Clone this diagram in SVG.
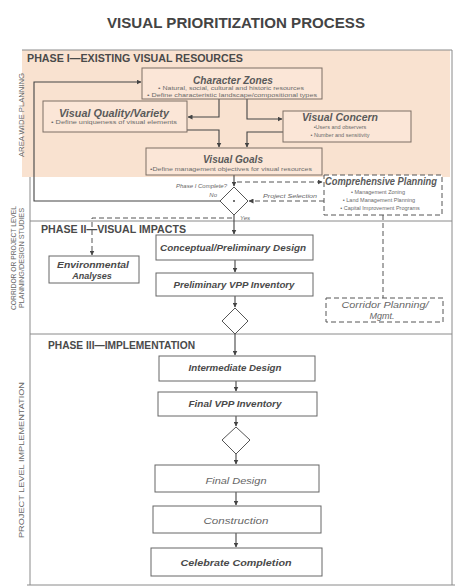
<svg xmlns="http://www.w3.org/2000/svg" width="466" height="587" viewBox="0 0 466 587">
<defs>
<marker id="ah" viewBox="0 0 10 10" refX="9" refY="5" markerWidth="5" markerHeight="5" orient="auto" markerUnits="userSpaceOnUse"><path d="M0,0 L10,5 L0,10 z" fill="#444"/></marker>
<style>
text{font-family:"Liberation Sans",Arial,sans-serif;fill:#444}
.box{fill:#fff;stroke:#666;stroke-width:1}
.pbox{fill:#fbe6d7;stroke:#7d6e64;stroke-width:1}
.dbox{fill:#fff;stroke:#555;stroke-width:1;stroke-dasharray:5 3}
.bt{font-weight:bold;font-style:italic;font-size:9px;text-anchor:middle;fill:#4a4a4a}
.pt{font-weight:bold;font-style:italic;font-size:10px;text-anchor:middle;fill:#5a5a5a}
.bl{font-size:5.5px;text-anchor:middle;fill:#6a6a6a}
.lt{font-style:italic;font-size:9px;text-anchor:middle;fill:#666}
.ph{font-weight:bold;font-size:10px;fill:#4a4a4a}
.side{font-size:6.5px;text-anchor:middle;fill:#666}
.sm{font-style:italic;font-size:6px;fill:#666}
.c{fill:none;stroke:#444;stroke-width:1.1}
.cd{fill:none;stroke:#555;stroke-width:1;stroke-dasharray:5 3}
.fr{fill:none;stroke:#8a8a8a;stroke-width:1}
</style>
</defs>
<rect width="466" height="587" fill="#fff"/>
<g id="title"><text x="236" y="28" font-size="15" font-weight="bold" text-anchor="middle" textLength="258" lengthAdjust="spacingAndGlyphs">VISUAL PRIORITIZATION PROCESS</text></g>
<g id="frame">
<rect x="22" y="50" width="428" height="127" fill="#f9e2d0"/>
<line class="fr" x1="22" y1="50" x2="452" y2="50"/>
<line class="fr" x1="452" y1="50" x2="452" y2="585"/>
<line class="fr" x1="30" y1="177" x2="30" y2="585"/>
<line class="fr" x1="27" y1="585" x2="455" y2="585"/>
<line class="fr" x1="30" y1="221" x2="452" y2="221"/>
<line class="fr" x1="30" y1="334" x2="452" y2="334"/>
<text class="ph" x="27" y="62" textLength="216" lengthAdjust="spacingAndGlyphs">PHASE I—EXISTING VISUAL RESOURCES</text>
<text class="ph" x="41" y="233" textLength="145" lengthAdjust="spacingAndGlyphs">PHASE II—VISUAL IMPACTS</text>
<text class="ph" x="48" y="349" textLength="147" lengthAdjust="spacingAndGlyphs">PHASE III—IMPLEMENTATION</text>
<text class="side" transform="translate(24,115) rotate(-90)" textLength="84" lengthAdjust="spacingAndGlyphs">AREA WIDE PLANNING</text>
<text class="side" transform="translate(16,258) rotate(-90)" textLength="104" lengthAdjust="spacingAndGlyphs">CORRIDOR OR PROJECT LEVEL</text>
<text class="side" transform="translate(24,258) rotate(-90)" textLength="100" lengthAdjust="spacingAndGlyphs">PLANNING/DESIGN STUDIES</text>
<text class="side" font-size="7" transform="translate(24,460) rotate(-90)" textLength="156" lengthAdjust="spacingAndGlyphs">PROJECT LEVEL IMPLEMENTATION</text>
</g>
<g id="connectors">
<polyline class="c" points="220,201 34,201 34,82 141,82" marker-end="url(#ah)"/>
<polyline class="c" points="219,99 219,117 188,117" marker-end="url(#ah)"/>
<polyline class="c" points="247,99 247,119 282,119" marker-end="url(#ah)"/>
<polyline class="c" points="187,130 219,130 219,147" marker-end="url(#ah)"/>
<polyline class="c" points="283,132 247,132 247,147" marker-end="url(#ah)"/>
<line class="c" x1="234" y1="175" x2="234" y2="186" marker-end="url(#ah)"/>
<line class="cd" x1="237" y1="182" x2="322" y2="182" marker-end="url(#ah)"/>
<line class="cd" x1="324" y1="201" x2="249" y2="201" marker-end="url(#ah)"/>
<line class="cd" x1="383" y1="215" x2="383" y2="298"/>
<line class="c" x1="234" y1="215" x2="234" y2="234" marker-end="url(#ah)"/>
<polyline class="cd" points="232,218 92,218 92,255" marker-end="url(#ah)"/>
<line class="c" x1="235" y1="260" x2="235" y2="272" marker-end="url(#ah)"/>
<line class="c" x1="235" y1="296" x2="235" y2="307" marker-end="url(#ah)"/>
<line class="c" x1="235" y1="334" x2="235" y2="355" marker-end="url(#ah)"/>
<line class="c" x1="236" y1="381" x2="236" y2="391" marker-end="url(#ah)"/>
<line class="c" x1="236" y1="416" x2="236" y2="426" marker-end="url(#ah)"/>
<line class="c" x1="236" y1="454" x2="236" y2="464" marker-end="url(#ah)"/>
<line class="c" x1="236" y1="492" x2="236" y2="505" marker-end="url(#ah)"/>
<line class="c" x1="236" y1="533" x2="236" y2="547" marker-end="url(#ah)"/>
<text class="sm" x="227" y="188" text-anchor="end">Phase I Complete?</text>
<text class="sm" x="217" y="197" text-anchor="end">No</text>
<text class="sm" x="290" y="198" text-anchor="middle" textLength="54" lengthAdjust="spacingAndGlyphs">Project Selection</text>
<text class="sm" x="240" y="220" font-size="4.5" fill="#aaa">Yes</text>
</g>
<g id="character-zones">
<rect class="pbox" x="142" y="68" width="180" height="31"/>
<text class="pt" x="233" y="83.5" textLength="80" lengthAdjust="spacingAndGlyphs">Character Zones</text>
<text class="bl" x="231" y="90" textLength="146" lengthAdjust="spacingAndGlyphs">• Natural, social, cultural and historic resources</text>
<text class="bl" x="232" y="97" textLength="170" lengthAdjust="spacingAndGlyphs">• Define characteristic landscape/compositional types</text>
</g>
<g id="visual-quality">
<rect class="pbox" x="43" y="101" width="144" height="31"/>
<text class="pt" x="114" y="116.5" textLength="110" lengthAdjust="spacingAndGlyphs">Visual Quality/Variety</text>
<text class="bl" x="114" y="124" textLength="126" lengthAdjust="spacingAndGlyphs">• Define uniqueness of visual elements</text>
</g>
<g id="visual-concern">
<rect class="pbox" x="283" y="111" width="128" height="31"/>
<text class="pt" x="340" y="121" textLength="76" lengthAdjust="spacingAndGlyphs">Visual Concern</text>
<text class="bl" x="340" y="129">•Users and observers</text>
<text class="bl" x="340" y="137">• Number and sensitivity</text>
</g>
<g id="visual-goals">
<rect class="pbox" x="146" y="148" width="176" height="27"/>
<text class="pt" x="233" y="162.5" textLength="60" lengthAdjust="spacingAndGlyphs">Visual Goals</text>
<text class="bl" x="231" y="170.5" textLength="162" lengthAdjust="spacingAndGlyphs">•Define management objectives for visual resources</text>
</g>
<g id="decision-1">
<polygon points="234,187 248,201 234,215 220,201" fill="#fff" stroke="#555" stroke-width="1"/>
<circle cx="234" cy="201" r="1" fill="#444"/>
</g>
<g id="comprehensive-planning">
<rect class="dbox" x="324" y="175" width="118" height="40"/>
<text class="pt" x="381" y="185" textLength="112" lengthAdjust="spacingAndGlyphs">Comprehensive Planning</text>
<text class="bl" x="378" y="194">• Management Zoning</text>
<text class="bl" x="379" y="202">• Land Management Planning</text>
<text class="bl" x="380" y="210">• Capital Improvement Programs</text>
</g>
<g id="environmental-analyses">
<rect class="box" x="49" y="256" width="90" height="27"/>
<text class="bt" x="93" y="268" textLength="72" lengthAdjust="spacingAndGlyphs">Environmental</text>
<text class="bt" x="92" y="279">Analyses</text>
</g>
<g id="conceptual-design">
<rect class="box" x="156" y="235" width="157" height="25"/>
<text class="bt" x="233" y="251" textLength="146" lengthAdjust="spacingAndGlyphs">Conceptual/Preliminary Design</text>
</g>
<g id="preliminary-vpp">
<rect class="box" x="156" y="273" width="157" height="23"/>
<text class="bt" x="234" y="288" textLength="121" lengthAdjust="spacingAndGlyphs">Preliminary VPP Inventory</text>
</g>
<g id="decision-2">
<polygon points="235,308 248,321 235,334 222,321" fill="#fff" stroke="#555" stroke-width="1"/>
</g>
<g id="corridor-planning">
<rect class="dbox" x="326" y="298" width="117" height="24"/>
<text class="lt" x="385" y="308" textLength="87" lengthAdjust="spacingAndGlyphs">Corridor Planning/</text>
<text class="lt" x="382" y="319">Mgmt.</text>
</g>
<g id="intermediate-design">
<rect class="box" x="159" y="356" width="156" height="25"/>
<text class="bt" x="235" y="371" textLength="93" lengthAdjust="spacingAndGlyphs">Intermediate Design</text>
</g>
<g id="final-vpp">
<rect class="box" x="158" y="392" width="159" height="24"/>
<text class="bt" x="235" y="407" textLength="93" lengthAdjust="spacingAndGlyphs">Final VPP Inventory</text>
</g>
<g id="decision-3">
<polygon points="236,427 250,440 236,454 222,440" fill="#fff" stroke="#555" stroke-width="1"/>
</g>
<g id="final-design">
<rect class="box" x="155" y="465" width="164" height="27"/>
<text class="lt" x="236" y="484" textLength="61" lengthAdjust="spacingAndGlyphs">Final Design</text>
</g>
<g id="construction">
<rect class="box" x="153" y="506" width="168" height="27"/>
<text class="lt" x="236" y="524" textLength="65" lengthAdjust="spacingAndGlyphs">Construction</text>
</g>
<g id="celebrate-completion">
<rect class="box" x="151" y="548" width="171" height="28"/>
<text class="bt" x="236" y="566" textLength="111" lengthAdjust="spacingAndGlyphs">Celebrate Completion</text>
</g>
</svg>
